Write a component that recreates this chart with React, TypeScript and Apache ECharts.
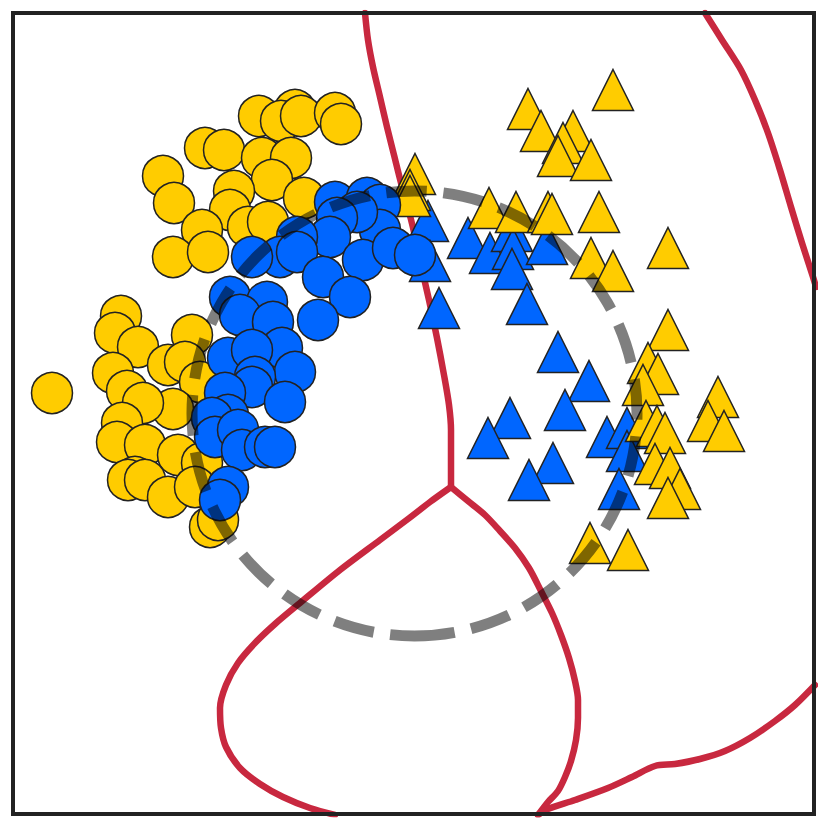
import React, { useEffect, useRef } from "react";
import * as echarts from "echarts";

type P = [number, number];

const yellowCircles: P[] = [
  [259, 116], [295, 110], [281, 121], [301, 116], [335, 113], [341, 124],
  [205, 148], [224, 150], [262, 158], [291, 158], [272, 180],
  [163, 176], [174, 203],
  [234, 191], [304, 198], [230, 210], [202, 230], [248, 227], [268, 222],
  [173, 257], [208, 252],
  [52, 393], [121, 316], [115, 333], [138, 347], [192, 335],
  [113, 373], [127, 391], [168, 365], [185, 362], [200, 382],
  [173, 409], [143, 403], [122, 423], [117, 442], [145, 445], [178, 455],
  [202, 463], [135, 477], [128, 480], [145, 480], [168, 497], [195, 487],
  [210, 527], [218, 520],
];

const blueCircles: P[] = [
  [335, 202], [367, 198], [380, 205], [380, 230], [357, 212], [337, 218],
  [330, 237], [297, 237], [280, 257], [252, 257], [297, 252],
  [363, 260], [323, 277], [393, 248], [415, 255],
  [230, 297], [267, 302], [350, 297], [318, 320], [240, 315], [273, 322],
  [228, 358], [282, 348], [252, 350], [295, 372], [255, 377],
  [252, 387], [285, 402], [225, 393], [228, 415], [212, 418],
  [215, 437], [238, 430], [242, 450], [265, 447], [275, 447],
  [228, 487], [220, 500],
];

const yellowTriangles: P[] = [
  [613, 90], [528, 109], [541, 131], [573, 131], [563, 143], [558, 156], [591, 160],
  [415, 174], [410, 190], [410, 196],
  [489, 208], [516, 212], [548, 212], [552, 214], [599, 212],
  [668, 248], [591, 258], [613, 271], [668, 330],
  [648, 363], [658, 374], [643, 385], [646, 421], [657, 426], [665, 433],
  [655, 464], [670, 468], [680, 489], [668, 498],
  [718, 397], [708, 421], [724, 431],
  [590, 543], [628, 550],
];

const blueTriangles: P[] = [
  [428, 221], [430, 261], [468, 238], [490, 253], [512, 231], [513, 249], [547, 244], [512, 269],
  [439, 308], [527, 304], [558, 352], [589, 381], [565, 410], [510, 418], [488, 438],
  [553, 463], [529, 480], [607, 437], [627, 428], [627, 451], [619, 489],
];

const boundaryTop: P[] = [
  [365, 13], [368, 40], [373, 67], [380, 97], [387, 127], [394, 155], [401, 183],
  [408, 208], [414, 232], [421, 265], [429, 300], [437, 338], [444, 375],
  [449, 405], [451, 430], [451, 460], [451, 487],
];
const boundaryLowerLeft: P[] = [
  [451, 487], [430, 502], [408, 519], [380, 540], [340, 570], [300, 603],
  [275, 624], [255, 643], [238, 663], [226, 685], [220, 708], [221, 728],
  [226, 747], [240, 768], [260, 784], [283, 797], [310, 808], [335, 815],
];
const boundaryLowerRight: P[] = [
  [451, 487], [468, 501], [485, 515], [500, 531], [515, 548], [529, 568],
  [541, 591], [552, 613], [561, 635], [569, 658], [575, 681], [578, 700],
  [578, 718], [576, 740], [571, 761], [565, 777], [558, 791], [548, 802], [538, 815],
];
const boundaryBottomRight: P[] = [
  [538, 815], [548, 809], [575, 800], [608, 788], [632, 777], [655, 766],
  [675, 764], [700, 759], [725, 751], [750, 738], [775, 721], [795, 705], [815, 685],
];
const boundaryRight: P[] = [
  [705, 13], [722, 40], [741, 70], [755, 100], [768, 133], [780, 170],
  [791, 207], [802, 243], [813, 277], [816, 287],
];

const guideCenter: P = [414.5, 413.5];
const guideRadius = 222.5;

const AXIS_MIN = 13;
const AXIS_MAX = 814;

const YELLOW = "#FFCC00";
const BLUE = "#0066FF";
const RED = "#C8283F";
const EDGE = "#222222";

export default function App() {
  const ref = useRef<HTMLDivElement>(null);

  useEffect(() => {
    if (!ref.current) return;
    const chart = echarts.init(ref.current, null, { renderer: "svg" });

    const boundary = (data: P[]) => ({
      type: "line",
      data,
      symbol: "none",
      smooth: 0.3,
      silent: true,
      z: 1,
      lineStyle: { color: RED, width: 6.5, cap: "round", join: "round" },
    });

    const scatter = (data: P[], symbol: string, color: string, z: number) => ({
      type: "scatter",
      data,
      symbol,
      symbolSize: 41,
      silent: true,
      z,
      itemStyle: { color, borderColor: EDGE, borderWidth: 1.5, opacity: 1 },
    });

    chart.setOption({
      animation: false,
      backgroundColor: "#ffffff",
      grid: { left: AXIS_MIN, top: AXIS_MIN, width: AXIS_MAX - AXIS_MIN, height: AXIS_MAX - AXIS_MIN, show: false },
      xAxis: { type: "value", min: AXIS_MIN, max: AXIS_MAX, show: false },
      yAxis: { type: "value", min: AXIS_MIN, max: AXIS_MAX, inverse: true, show: false },
      series: [
        boundary(boundaryTop),
        boundary(boundaryLowerLeft),
        boundary(boundaryLowerRight),
        boundary(boundaryBottomRight),
        boundary(boundaryRight),
        scatter(blueTriangles, "triangle", BLUE, 3),
        scatter(yellowTriangles, "triangle", YELLOW, 4),
        scatter(yellowCircles, "circle", YELLOW, 5),
        scatter(blueCircles, "circle", BLUE, 6),
      ],
    });

    const c = chart.convertToPixel({ gridIndex: 0 }, guideCenter) as number[];
    const e = chart.convertToPixel({ gridIndex: 0 }, [guideCenter[0] + guideRadius, guideCenter[1]]) as number[];
    const tl = chart.convertToPixel({ gridIndex: 0 }, [AXIS_MIN, AXIS_MIN]) as number[];
    const br = chart.convertToPixel({ gridIndex: 0 }, [AXIS_MAX, AXIS_MAX]) as number[];
    const r = e[0] - c[0];

    chart.setOption({
      graphic: [
        {
          type: "arc",
          silent: true,
          z: 100,
          shape: {
            cx: c[0],
            cy: c[1],
            r,
            startAngle: Math.PI / 2,
            endAngle: Math.PI / 2 - 2 * Math.PI,
            clockwise: false,
          },
          style: {
            fill: "none",
            stroke: "rgba(0,0,0,0.5)",
            lineWidth: 11,
            lineDash: [40.5, 16.7],
            lineDashOffset: 0,
            lineCap: "butt",
          },
        },
        {
          type: "rect",
          silent: true,
          z: 110,
          shape: { x: tl[0], y: tl[1], width: br[0] - tl[0], height: br[1] - tl[1] },
          style: { fill: "none", stroke: "#222222", lineWidth: 4 },
        },
      ],
    });

    return () => chart.dispose();
  }, []);

  return (
    <div
      ref={ref}
      style={{ position: "absolute", left: 0, top: 0, width: 828, height: 828 }}
    />
  );
}
